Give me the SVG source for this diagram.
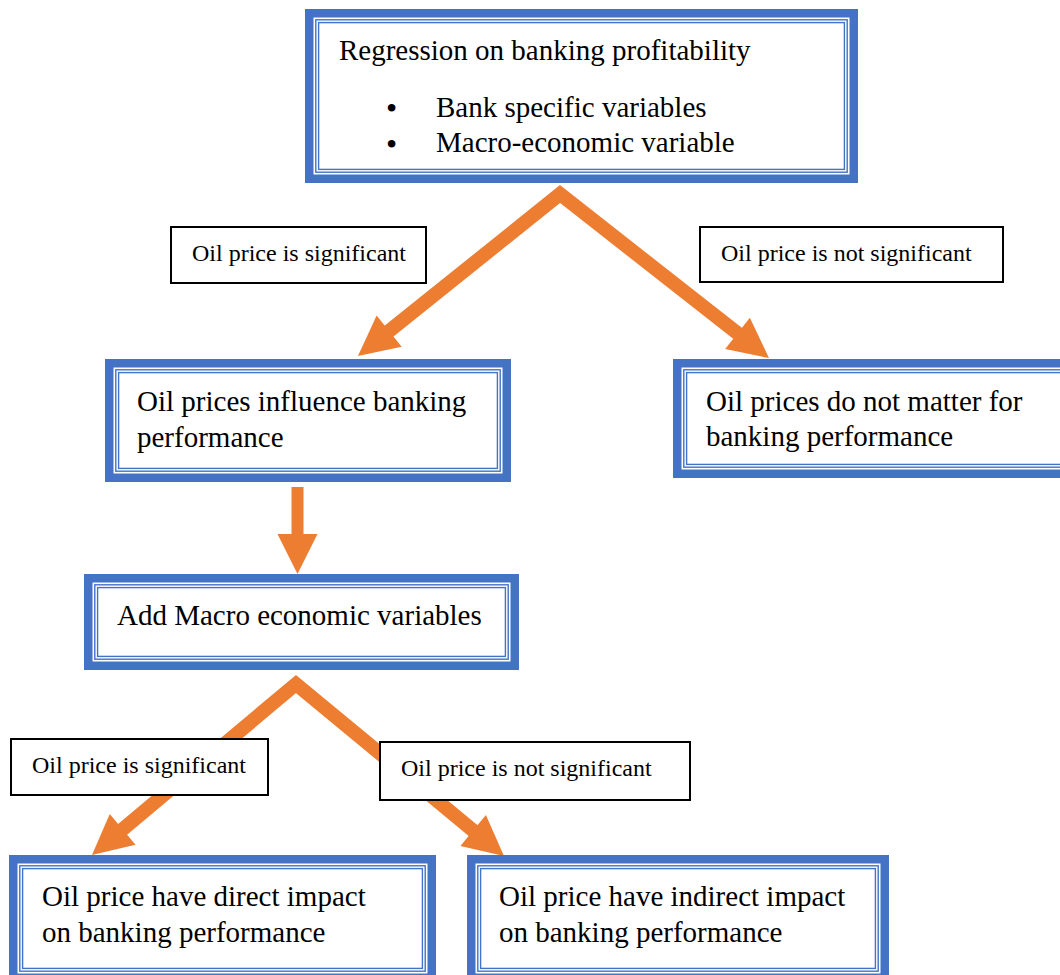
<svg xmlns="http://www.w3.org/2000/svg" width="1060" height="975" viewBox="0 0 1060 975">
<style>
.thick{fill:#fff;stroke:#4472C4;stroke-width:8.5}
.thin{fill:none;stroke:#4472C4;stroke-width:1.4}
.lbl{fill:#fff;stroke:#000;stroke-width:2}
.t{font-family:"Liberation Serif","Times New Roman",serif;font-size:29px;fill:#000}
.s{font-size:24px}
.b{font-size:32px}
.conn{fill:none;stroke:#ED7D31;stroke-width:14;stroke-linejoin:miter;stroke-miterlimit:10}
.v{stroke-width:12}
</style>
<defs>
<marker id="ah" markerUnits="userSpaceOnUse" viewBox="0 -20 40 40" markerWidth="40" markerHeight="40" refX="2" refY="0" orient="auto-start-reverse" overflow="visible">
<path d="M0,-20 L40,0 L0,20 Z" fill="#ED7D31"/>
</marker>
</defs>
<rect width="1060" height="975" fill="#fff"/>
<g id="connectors">
<polyline class="conn" points="387.6,332.3 560,194 739.1,334.6" marker-start="url(#ah)" marker-end="url(#ah)"/>
<line class="conn v" x1="297.5" y1="487" x2="297.5" y2="536" marker-end="url(#ah)"/>
<polyline class="conn" points="121.1,830.6 296,684 474.7,831.8" marker-start="url(#ah)" marker-end="url(#ah)"/>
</g>
<g id="n1">
<rect class="thick" x="309.25" y="13.25" width="544.5" height="165.5"/>
<rect class="thin" x="315.8" y="19.8" width="531.4" height="152.4"/>
<rect class="thin" x="318.6" y="22.6" width="525.8" height="146.8"/>
<text class="t" x="339" y="60">Regression on banking profitability</text>
<text class="t b" x="386" y="118.5">•</text>
<text class="t b" x="386" y="154.5">•</text>
<text class="t" x="436" y="117">Bank specific variables</text>
<text class="t" x="436" y="152">Macro-economic variable</text>
</g>
<g id="n2">
<rect class="thick" x="109.25" y="363.25" width="397.5" height="114.5"/>
<rect class="thin" x="115.8" y="369.8" width="384.4" height="101.4"/>
<rect class="thin" x="118.6" y="372.6" width="378.8" height="95.8"/>
<text class="t" x="137" y="411">Oil prices influence banking</text>
<text class="t" x="137" y="447">performance</text>
</g>
<g id="n3">
<rect class="thick" x="677.25" y="363.25" width="398.5" height="110.5"/>
<rect class="thin" x="683.8" y="369.8" width="385.4" height="97.4"/>
<rect class="thin" x="686.6" y="372.6" width="379.8" height="91.8"/>
<text class="t" x="706" y="411">Oil prices do not matter for</text>
<text class="t" x="706" y="446">banking performance</text>
</g>
<g id="n4">
<rect class="thick" x="88.25" y="578.25" width="426.5" height="87.5"/>
<rect class="thin" x="94.8" y="584.8" width="413.4" height="74.4"/>
<rect class="thin" x="97.6" y="587.6" width="407.8" height="68.8"/>
<text class="t" x="117" y="625">Add Macro economic variables</text>
</g>
<g id="n5">
<rect class="thick" x="13.25" y="859.25" width="418.5" height="118.5"/>
<rect class="thin" x="19.8" y="865.8" width="405.4" height="105.4"/>
<rect class="thin" x="22.6" y="868.6" width="399.8" height="99.8"/>
<text class="t" x="42" y="906">Oil price have direct impact</text>
<text class="t" x="42" y="942">on banking performance</text>
</g>
<g id="n6">
<rect class="thick" x="471.25" y="859.25" width="413.5" height="118.5"/>
<rect class="thin" x="477.8" y="865.8" width="400.4" height="105.4"/>
<rect class="thin" x="480.6" y="868.6" width="394.8" height="99.8"/>
<text class="t" x="499" y="906">Oil price have indirect impact</text>
<text class="t" x="499" y="942">on banking performance</text>
</g>
<g id="l1">
<rect class="lbl" x="171" y="227" width="255" height="56"/>
<text class="t s" x="192" y="261">Oil price is significant</text>
</g>
<g id="l2">
<rect class="lbl" x="700" y="227" width="303" height="55"/>
<text class="t s" x="721" y="261">Oil price is not significant</text>
</g>
<g id="l3">
<rect class="lbl" x="11" y="739" width="257" height="56"/>
<text class="t s" x="32" y="773">Oil price is significant</text>
</g>
<g id="l4">
<rect class="lbl" x="380" y="742" width="310" height="58"/>
<text class="t s" x="401" y="776">Oil price is not significant</text>
</g>
</svg>
